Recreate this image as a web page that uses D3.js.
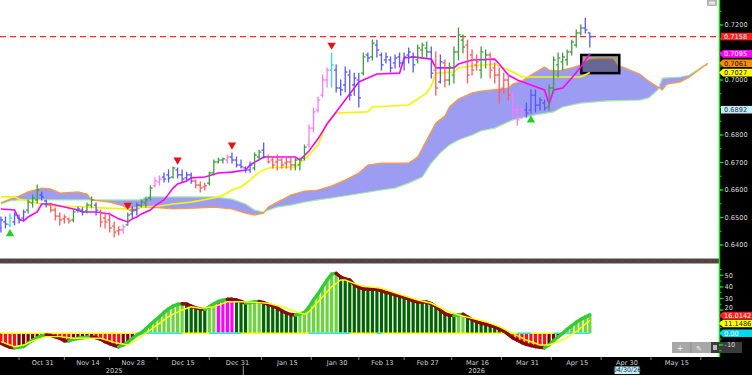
<!DOCTYPE html>
<html>
<head>
<meta charset="utf-8">
<script src="https://cdn.jsdelivr.net/npm/d3@7"></script>
<style>
  body { margin: 0; background: #fff; }
  svg { display: block; font-family: "DejaVu Sans", Verdana, sans-serif; }
</style>
</head>
<body>
<svg id="chart" width="752" height="375"></svg>
<script>
// ---- data ----
const firstDay = "2025-10-20"
const nBars = 131, nAhead = 26

const barOpen = [0.6462,0.6484,0.6473,0.6484,0.6498,0.6498,0.6527,0.6553,0.6564,0.6582,
  0.6560,0.6545,0.6527,0.6505,0.6495,0.6495,0.6491,0.6527,0.6527,0.6524,
  0.6545,0.6545,0.6520,0.6498,0.6491,0.6469,0.6451,0.6455,0.6473,0.6513,
  0.6527,0.6545,0.6553,0.6571,0.6615,0.6629,0.6647,0.6655,0.6647,0.6673,
  0.6655,0.6644,0.6655,0.6633,0.6618,0.6611,0.6625,0.6662,0.6702,0.6709,
  0.6709,0.6720,0.6709,0.6691,0.6680,0.6673,0.6680,0.6720,0.6745,0.6720,
  0.6709,0.6702,0.6709,0.6698,0.6702,0.6691,0.6691,0.6716,0.6764,0.6825,
  0.6891,0.6945,0.7000,0.7036,0.7036,0.6971,0.6982,0.7018,0.6982,0.7000,
  0.7025,0.7091,0.7084,0.7127,0.7091,0.7073,0.7073,0.7062,0.7084,0.7062,
  0.7091,0.7084,0.7073,0.7109,0.7116,0.7102,0.7036,0.6993,0.7062,0.7000,
  0.7018,0.7102,0.7145,0.7127,0.7091,0.7055,0.7036,0.7073,0.7091,0.7044,
  0.7018,0.6971,0.7000,0.6945,0.6891,0.6865,0.6891,0.6891,0.6945,0.6909,
  0.6916,0.6902,0.6971,0.7055,0.7066,0.7073,0.7102,0.7127,0.7171,0.7189,
  0.7171]
const barHigh = [0.6502,0.6502,0.6513,0.6516,0.6509,0.6527,0.6564,0.6582,0.6618,0.6593,
  0.6564,0.6553,0.6535,0.6516,0.6509,0.6498,0.6527,0.6538,0.6535,0.6553,
  0.6575,0.6553,0.6527,0.6516,0.6516,0.6484,0.6466,0.6473,0.6516,0.6538,
  0.6553,0.6564,0.6571,0.6615,0.6644,0.6651,0.6662,0.6673,0.6684,0.6680,
  0.6673,0.6665,0.6662,0.6636,0.6629,0.6625,0.6665,0.6709,0.6716,0.6716,
  0.6727,0.6735,0.6720,0.6709,0.6684,0.6702,0.6735,0.6745,0.6771,0.6727,
  0.6720,0.6727,0.6720,0.6716,0.6716,0.6716,0.6716,0.6764,0.6836,0.6898,
  0.6938,0.7018,0.7044,0.7098,0.7055,0.7000,0.7047,0.7036,0.7025,0.7025,
  0.7098,0.7098,0.7145,0.7145,0.7098,0.7098,0.7084,0.7091,0.7098,0.7098,
  0.7116,0.7098,0.7127,0.7134,0.7138,0.7120,0.7102,0.7091,0.7073,0.7062,
  0.7120,0.7189,0.7164,0.7145,0.7109,0.7091,0.7120,0.7109,0.7098,0.7062,
  0.7044,0.7025,0.7018,0.6953,0.6909,0.6902,0.6916,0.6964,0.6964,0.6935,
  0.6927,0.6982,0.7084,0.7098,0.7098,0.7109,0.7145,0.7182,0.7200,0.7225,
  0.7171]
const barLow = [0.6447,0.6462,0.6466,0.6473,0.6480,0.6491,0.6516,0.6538,0.6553,0.6564,
  0.6538,0.6520,0.6491,0.6473,0.6480,0.6480,0.6484,0.6520,0.6509,0.6516,
  0.6535,0.6509,0.6466,0.6462,0.6447,0.6429,0.6436,0.6444,0.6473,0.6498,
  0.6509,0.6538,0.6538,0.6564,0.6611,0.6618,0.6629,0.6629,0.6644,0.6644,
  0.6629,0.6636,0.6625,0.6607,0.6593,0.6600,0.6618,0.6655,0.6698,0.6698,
  0.6698,0.6698,0.6684,0.6680,0.6665,0.6665,0.6673,0.6709,0.6716,0.6698,
  0.6680,0.6673,0.6680,0.6680,0.6673,0.6673,0.6673,0.6709,0.6756,0.6811,
  0.6884,0.6938,0.6975,0.6975,0.6956,0.6945,0.6956,0.6927,0.6945,0.6902,
  0.7018,0.7066,0.7073,0.7084,0.7036,0.7062,0.7029,0.7044,0.7047,0.7036,
  0.7062,0.7029,0.7062,0.7080,0.7084,0.7007,0.6945,0.6989,0.6975,0.6982,
  0.6989,0.7073,0.7098,0.6989,0.7018,0.7036,0.7007,0.7044,0.7007,0.6989,
  0.6916,0.6953,0.6927,0.6865,0.6836,0.6862,0.6865,0.6880,0.6884,0.6891,
  0.6891,0.6891,0.6953,0.7011,0.7036,0.7055,0.7091,0.7120,0.7164,0.7171,
  0.7120]
const barClose = [0.6491,0.6476,0.6498,0.6509,0.6491,0.6520,0.6556,0.6571,0.6600,0.6575,
  0.6549,0.6527,0.6505,0.6491,0.6502,0.6487,0.6520,0.6531,0.6520,0.6545,
  0.6564,0.6527,0.6484,0.6484,0.6462,0.6447,0.6455,0.6466,0.6509,0.6527,
  0.6545,0.6556,0.6564,0.6607,0.6633,0.6640,0.6640,0.6644,0.6680,0.6655,
  0.6640,0.6655,0.6633,0.6618,0.6607,0.6615,0.6662,0.6702,0.6709,0.6713,
  0.6720,0.6709,0.6691,0.6684,0.6673,0.6691,0.6727,0.6738,0.6720,0.6702,
  0.6691,0.6709,0.6691,0.6702,0.6691,0.6709,0.6709,0.6756,0.6825,0.6884,
  0.6927,0.7000,0.7036,0.7055,0.6971,0.6964,0.7029,0.6945,0.7007,0.6935,
  0.7084,0.7080,0.7134,0.7109,0.7055,0.7084,0.7044,0.7080,0.7062,0.7084,
  0.7102,0.7055,0.7116,0.7127,0.7102,0.7025,0.6971,0.7066,0.7000,0.7047,
  0.7102,0.7164,0.7120,0.7018,0.7036,0.7066,0.7102,0.7091,0.7036,0.7018,
  0.6964,0.7000,0.6945,0.6891,0.6855,0.6891,0.6880,0.6945,0.6909,0.6927,
  0.6898,0.6971,0.7073,0.7080,0.7084,0.7102,0.7138,0.7171,0.7189,0.7182,
  0.7158]
// trend colour of each bar: B blue, G green, R red, P pink, C cyan
const barTrend = ("BBCBBBGGGB" + "BRRRRRGBBG" + "GBRRRRRPGB" + "BGGGPPBBGB" + "BBBRRRGGGG" +
  "PBBBBBGGBR" + "RRRRRGGGPP" + "PPPCBBBBBB" + "GBGBBBBBBB" + "BBGGGBRBRG" +
  "GGGRRRGGRR" + "RRRPPPBBBB" + "BGGGGGGGGB" + "B").split("")

// [bar index, value]
const tenkan = [[0,0.6531],[3,0.6527],[4,0.6495],[5,0.6487],[6,0.6502],[8,0.6520],[9,0.6549],[11,0.6549],
  [13,0.6542],[17,0.6527],[18,0.6520],[21,0.6520],[24,0.6513],[26,0.6495],[28,0.6484],[29,0.6495],
  [30,0.6502],[31,0.6513],[33,0.6527],[34,0.6542],[36,0.6564],[37,0.6585],[38,0.6607],[39,0.6622],
  [41,0.6633],[42,0.6644],[45,0.6647],[48,0.6662],[51,0.6665],[54,0.6673],[55,0.6691],[58,0.6720],
  [65,0.6720],[66,0.6709],[68,0.6742],[70,0.6786],[72,0.6840],[74,0.6884],[76,0.6927],[77,0.6949],
  [79,0.6993],[81,0.7007],[83,0.7022],[88,0.7025],[89,0.7080],[91,0.7084],[95,0.7076],[96,0.7044],
  [100,0.7044],[101,0.7058],[104,0.7073],[109,0.7076],[110,0.7058],[112,0.7018],[114,0.7000],
  [117,0.6982],[120,0.6964],[121,0.6913],[122,0.6964],[124,0.6971],[126,0.7007],[128,0.7047],[130,0.7095]]
const kijun = [[0,0.6575],[3,0.6575],[4,0.6567],[8,0.6553],[11,0.6542],[19,0.6538],[22,0.6535],[28,0.6531],
  [31,0.6538],[35,0.6542],[38,0.6549],[42,0.6556],[47,0.6571],[48,0.6575],[50,0.6589],[51,0.6600],
  [53,0.6611],[55,0.6636],[57,0.6665],[59,0.6680],[65,0.6684],[66,0.6698],[68,0.6727],[70,0.6764],
  [72,0.6844],[73,0.6865],[74,0.6880],[81,0.6884],[82,0.6902],[90,0.6909],[91,0.6920],[93,0.6942],
  [94,0.6953],[95,0.6978],[96,0.7025],[100,0.7029],[101,0.7044],[104,0.7051],[109,0.7058],[111,0.7044],
  [113,0.7029],[115,0.7011],[128,0.7011],[130,0.7027]]
const spanA = [[0,0.6553],[2,0.6567],[4,0.6578],[6,0.6593],[9,0.6607],[11,0.6604],[13,0.6589],[17,0.6593],
  [19,0.6585],[20,0.6564],[24,0.6556],[27,0.6542],[29,0.6520],[31,0.6538],[33,0.6538],[38,0.6531],
  [44,0.6535],[47,0.6538],[51,0.6531],[54,0.6516],[56,0.6509],[58,0.6516],[59,0.6538],[62,0.6564],
  [64,0.6582],[67,0.6596],[70,0.6600],[73,0.6615],[76,0.6636],[79,0.6662],[81,0.6691],[84,0.6698],
  [90,0.6698],[92,0.6720],[94,0.6782],[96,0.6844],[98,0.6869],[99,0.6902],[101,0.6931],[104,0.6953],
  [106,0.6960],[110,0.6967],[112,0.6971],[113,0.6985],[115,0.6996],[117,0.7018],[120,0.7047],[121,0.7036],
  [123,0.7033],[126,0.7044],[128,0.7055],[130,0.7073],[132,0.7076],[135,0.7076],[136,0.7055],[141,0.7022],
  [143,0.6996],[146,0.6964],[147,0.6985],[150,0.6993],[152,0.7011],[156,0.7061]]
const spanB = [[0,0.6549],[2,0.6560],[4,0.6564],[31,0.6564],[32,0.6575],[47,0.6575],[51,0.6567],[54,0.6549],
  [56,0.6527],[58,0.6520],[61,0.6538],[64,0.6545],[67,0.6556],[70,0.6564],[73,0.6571],[80,0.6589],
  [84,0.6600],[87,0.6607],[90,0.6625],[93,0.6647],[95,0.6698],[97,0.6735],[99,0.6764],[101,0.6782],
  [104,0.6800],[106,0.6815],[109,0.6825],[113,0.6855],[118,0.6873],[122,0.6884],[124,0.6902],[128,0.6916],
  [134,0.6924],[141,0.6927],[143,0.6935],[145,0.6964],[146,0.7007],[150,0.7011],[152,0.7018],[155,0.7051],[156,0.7055]]

const sellSignals = [28, 39, 51, 73]
const buySignals = [2, 117]

// lower panel oscillator, one value per bar
const osc = [-8.6,-10.5,-12,-12.4,-12,-11.4,-8.5,-6,-3.8,-2.2,
  -1.5,-1.8,-3,-4.3,-6.5,-6.5,-5.2,-4.5,-3.8,-3.3,
  -2.9,-3.8,-5.2,-7.2,-9,-10.5,-11.6,-10,-7.8,-4.5,
  -1.5,0.5,4,7.5,11,14.3,18,21,23.5,25,
  25.5,25.2,23.5,22,21,20.7,23,25.5,27.5,28.5,
  29.3,29.3,28.7,27.5,26,26.5,27.2,27.4,26.5,25,
  23.5,21.8,19.5,17.5,16.2,15.8,16.5,18,22.5,28.7,
  34,40,46,51,51.7,48.5,47,45.9,42,39.5,
  38.2,38,38,37.9,36.5,35.3,34.5,33.2,32,31,
  29.5,28,27,27,26.9,25.5,23,20,17,15.5,
  15.2,15.8,16.4,14,11.8,10.2,8.8,7.8,6.8,5.5,
  3.8,2,-1,-4,-6,-8,-9.5,-10.6,-11.5,-12,
  -12.4,-10,-6.5,-3,0,3.5,6.5,9.5,12,14,
  16.0142]
const signal = [[0,-7.2],[3,-11.6],[5,-10.1],[7,-6.6],[10,-2.9],[13,-2.9],[16,-4.3],[22,-4.3],[25,-7.8],
  [28,-10.1],[30,-5.8],[32,0],[35,8.6],[37,14.3],[40,20.1],[42,22.9],[44,21.6],[47,22.9],[50,27.2],
  [53,27.2],[56,26.7],[59,25.9],[62,22.9],[65,18.6],[67,16.4],[68,18.6],[70,27.2],[73,40.2],[75,45.9],
  [76,45.9],[79,41.6],[81,40.2],[84,38.8],[88,33.6],[92,28.7],[95,25.9],[98,20.1],[101,15.8],[104,12.9],
  [107,10],[110,5.7],[113,0],[116,-5.8],[119,-10.1],[121,-10.1],[124,-5.8],[127,1.4],[130,11.1486]]
const zeroCyan = [[30,40],[46,53],[68,77],[83,84],[114,117],[122,130]]
const magentaBars = [48, 49, 50, 51]

const tickDates = ["2025-10-31","2025-11-14","2025-11-28","2025-12-15","2025-12-31","2026-01-15","2026-01-30",
  "2026-02-13","2026-02-27","2026-03-16","2026-03-31","2026-04-15","2026-04-30","2026-05-15"]
const tickText = ["Oct 31","Nov 14","Nov 28","Dec 15","Dec 31","Jan 15","Jan 30",
  "Feb 13","Feb 27","Mar 16","Mar 31","Apr 15","Apr 30","May 15"]
const yearText = ["2025", "2026"]
const yearDates = ["2025-11-24", "2026-03-16"]
const priceTicks = [0.72, 0.71, 0.70, 0.69, 0.68, 0.67, 0.66, 0.65, 0.64]
const oscTicks = [50, 40, 30, 20, 10, 0, -10]

const lastClose = 0.7158, tenkanLast = 0.7095, spanALast = 0.7061, kijunLast = 0.7027
const cursorPrice = 0.6892, cursorDate = "04/30/26"
const oscLast = 16.0142, signalLast = 11.1486

// ---- trading days (weekdays) ----
const days = []
let dt = new Date(firstDay + "T12:00:00Z")
while (days.length < nBars + nAhead) {
  const wd = dt.getUTCDay()
  if (wd != 0 && wd != 6) days.push(d3.utcFormat("%Y-%m-%d")(dt))
  dt = new Date(dt.getTime() + 864e5)
}

// ---- layout ----
const svg = d3.select("#chart")
const plotRight = 719
const x = d3.scaleLinear().domain([0, 156]).range([0.93, 0.93 + 4.53 * 156])
const yP = d3.scaleLinear().domain([0.64, 0.72]).range([245, 25])
const yO = d3.scaleLinear().domain([-10, 50]).range([344.9, 275.3])

const defs = svg.append("defs")
defs.append("clipPath").attr("id", "clipMain").append("rect")
  .attr("x", 0).attr("y", 0).attr("width", plotRight).attr("height", 258)
defs.append("clipPath").attr("id", "clipLow").append("rect")
  .attr("x", 0).attr("y", 264).attr("width", plotRight).attr("height", 93)

svg.append("rect").attr("width", 752).attr("height", 375).attr("fill", "#fff")

const gMain = svg.append("g").attr("clip-path", "url(#clipMain)")

// cloud
const ptsA = spanA.map(d => [x(d[0]), yP(d[1])])
const ptsB = spanB.map(d => [x(d[0]), yP(d[1])]).reverse()
gMain.append("path")
  .attr("d", d3.line()(ptsA.concat(ptsB)) + "Z")
  .attr("fill", "#9c9cf3")
gMain.append("path").attr("d", d3.line()(spanB.map(d => [x(d[0]), yP(d[1])])))
  .attr("fill", "none").attr("stroke", "#a6eaa6").attr("stroke-width", 1.2)
gMain.append("path").attr("d", d3.line()(ptsA))
  .attr("fill", "none").attr("stroke", "#ff9a3a").attr("stroke-width", 1.2)

// highlight box on the cloud ahead
gMain.append("rect")
  .attr("x", x(128.1)).attr("y", yP(0.7091))
  .attr("width", x(136.5) - x(128.1)).attr("height", yP(0.7025) - yP(0.7091))
  .attr("fill", "rgba(40,40,40,0.45)").attr("stroke", "#000").attr("stroke-width", 2.5)

// last price line
gMain.append("line")
  .attr("x1", 0).attr("x2", plotRight).attr("y1", yP(lastClose)).attr("y2", yP(lastClose))
  .attr("stroke", "#ff2a2a").attr("stroke-width", 1.3).attr("stroke-dasharray", "6,4")

// base and conversion lines
const line = d3.line().x(d => x(d[0])).y(d => yP(d[1]))
gMain.append("path").attr("d", line(kijun))
  .attr("fill", "none").attr("stroke", "#f5f500").attr("stroke-width", 1.6)
gMain.append("path").attr("d", line(tenkan))
  .attr("fill", "none").attr("stroke", "#ff00ff").attr("stroke-width", 1.6)

// OHLC bars
const trendColor = { B: "#5656ff", G: "#3f9d3f", R: "#ff5a5a", P: "#ff77ff", C: "#35dcec" }
const bars = gMain.selectAll("g.bar").data(d3.range(nBars)).join("g")
  .attr("stroke", k => trendColor[barTrend[k]]).attr("stroke-width", 1.3)
bars.append("line")
  .attr("x1", k => x(k)).attr("x2", k => x(k))
  .attr("y1", k => yP(barHigh[k]) - 0.5).attr("y2", k => yP(barLow[k]) + 0.5)
bars.append("line")
  .attr("x1", k => x(k) - 2.2).attr("x2", k => x(k))
  .attr("y1", k => yP(barOpen[k])).attr("y2", k => yP(barOpen[k]))
bars.append("line")
  .attr("x1", k => x(k)).attr("x2", k => x(k) + 2.2)
  .attr("y1", k => yP(barClose[k])).attr("y2", k => yP(barClose[k]))

// signal triangles
const tri = d3.symbol(d3.symbolTriangle, 30)
gMain.selectAll("path.sell").data(sellSignals).join("path")
  .attr("d", tri()).attr("fill", "#e81212")
  .attr("transform", k => `translate(${x(k)},${yP(barHigh[k]) - 8}) rotate(180)`)
gMain.selectAll("path.buy").data(buySignals).join("path")
  .attr("d", tri()).attr("fill", "#1ed21e")
  .attr("transform", k => `translate(${x(k)},${yP(barLow[k]) + 7})`)

// panel separator
svg.append("rect").attr("x", 0).attr("y", 258.5).attr("width", plotRight).attr("height", 5).attr("fill", "#4a4a4a")
svg.append("line").attr("x1", 0).attr("x2", plotRight).attr("y1", 261).attr("y2", 261)
  .attr("stroke", "#9a1c1c").attr("stroke-width", 1.2).attr("stroke-dasharray", "5,3")

// ---- lower panel ----
const gLow = svg.append("g").attr("clip-path", "url(#clipLow)")
gLow.selectAll("rect.hist").data(d3.range(nBars)).join("rect")
  .attr("x", k => x(k) - 1.6).attr("width", 3.2)
  .attr("y", k => Math.min(yO(0), yO(osc[k])))
  .attr("height", k => Math.abs(yO(osc[k]) - yO(0)))
  .attr("fill", k => {
    if (magentaBars.includes(k)) return "#ff00ff"
    const up = k > 0 && osc[k] > osc[k - 1]
    if (osc[k] >= 0) return up ? "#6ad63c" : "#006400"
    return up ? "#8b0000" : "#ff1010"
  })

gLow.append("line").attr("x1", x(0)).attr("x2", x(nBars - 1)).attr("y1", yO(0)).attr("y2", yO(0))
  .attr("stroke", "#ffff00").attr("stroke-width", 1.6)
gLow.selectAll("line.zc").data(zeroCyan).join("line")
  .attr("x1", d => x(d[0])).attr("x2", d => x(d[1])).attr("y1", yO(0)).attr("y2", yO(0))
  .attr("stroke", "#22e6f5").attr("stroke-width", 1.6)

gLow.selectAll("line.osc").data(d3.range(1, nBars)).join("line")
  .attr("x1", k => x(k - 1)).attr("x2", k => x(k))
  .attr("y1", k => yO(osc[k - 1])).attr("y2", k => yO(osc[k]))
  .attr("stroke", k => osc[k] > osc[k - 1] ? "#33cc33" : "#8b0a0a")
  .attr("stroke-width", 3.4).attr("stroke-linecap", "round")
gLow.append("path")
  .attr("d", d3.line().x(d => x(d[0])).y(d => yO(d[1]))(signal))
  .attr("fill", "none").attr("stroke", "#ffff00").attr("stroke-width", 1.4)

// ---- right axis ----
const gAx = svg.append("g")
gAx.append("rect").attr("x", plotRight).attr("y", 0).attr("width", 752 - plotRight).attr("height", 375).attr("fill", "#000")
gAx.append("line").attr("x1", plotRight + 0.5).attr("x2", plotRight + 0.5).attr("y1", 0).attr("y2", 357)
  .attr("stroke", "#10e010").attr("stroke-width", 1.5)

// chart toolbar in the lower right corner
const tb = gAx.append("g")
tb.append("rect").attr("x", 672).attr("y", 342).attr("width", 70).attr("height", 11).attr("fill", "#a8a8a8")
tb.append("rect").attr("x", 711).attr("y", 342).attr("width", 31).attr("height", 11).attr("fill", "#3c3c3c")
tb.append("line").attr("x1", 691).attr("x2", 691).attr("y1", 342).attr("y2", 353).attr("stroke", "#8a8a8a")
tb.append("text").attr("x", 680).attr("y", 350.5).attr("text-anchor", "middle").attr("fill", "#f4f4f4").attr("font-size", 8).text("+")
tb.append("text").attr("x", 699).attr("y", 350.5).attr("text-anchor", "middle").attr("fill", "#f4f4f4").attr("font-size", 7).text("✎")
tb.append("rect").attr("x", 713).attr("y", 345).attr("width", 4).attr("height", 5).attr("fill", "#bdbdbd")

// value tags on the axis, pushed apart when they touch
const mainTags = [
  { y: yP(lastClose), bg: "#ff1e1e", fg: "#fff", txt: d3.format(".4f")(lastClose), notch: false },
  { y: yP(tenkanLast), bg: "#ff00ff", fg: "#fff", txt: d3.format(".4f")(tenkanLast), notch: true },
  { y: yP(spanALast), bg: "#ff8c00", fg: "#111", txt: d3.format(".4f")(spanALast), notch: true },
  { y: yP(kijunLast), bg: "#ffff00", fg: "#111", txt: d3.format(".4f")(kijunLast), notch: true },
  { y: yP(cursorPrice), bg: "#c4ecf6", fg: "#1c3450", txt: d3.format(".4f")(cursorPrice), notch: false }
]
const lowTags = [
  { y: yO(oscLast) + 0.8, bg: "#ff1e1e", fg: "#fff", txt: d3.format(".4f")(oscLast), notch: true },
  { y: yO(signalLast), bg: "#ffff00", fg: "#111", txt: d3.format(".4f")(signalLast), notch: true },
  { y: yO(0), bg: "#00d8ee", fg: "#fff", txt: "0.00", notch: true }
]
function spread(tags) {
  tags.sort((a, b) => a.y - b.y)
  for (let i = 1; i < tags.length; i++)
    if (tags[i].y - tags[i - 1].y < 8) tags[i].y = tags[i - 1].y + 8
}
spread(mainTags)
spread(lowTags)
const allTags = mainTags.concat(lowTags)
const hidden = v => allTags.some(t => Math.abs(t.y - v) < 4.5)
// labels partly under a tag are nudged up so they stay readable
const nudge = v => allTags.some(t => t.y - v >= 4.5 && t.y - v < 8) ? -2.6 : 0

const minorP = d3.range(0.635, 0.73, 0.005)
gAx.selectAll("line.mp").data(minorP).join("line")
  .attr("x1", plotRight).attr("x2", plotRight + 2.5).attr("y1", d => yP(d)).attr("y2", d => yP(d))
  .attr("stroke", "#10e010").attr("stroke-width", 1)
  .attr("visibility", d => yP(d) > 1 && yP(d) < 257 ? "visible" : "hidden")
gAx.selectAll("line.tp").data(priceTicks).join("line")
  .attr("x1", plotRight).attr("x2", plotRight + 4.5).attr("y1", d => yP(d)).attr("y2", d => yP(d))
  .attr("stroke", "#10e010").attr("stroke-width", 1.2)
gAx.selectAll("text.tp").data(priceTicks.filter(d => !hidden(yP(d)))).join("text")
  .attr("x", 724.5).attr("y", d => yP(d) + 2.4 + nudge(yP(d)))
  .attr("fill", "#d8d8d8").attr("font-size", 6.6).text(d => d3.format(".4f")(d))

gAx.selectAll("line.mo").data(d3.range(-15, 56, 5)).join("line")
  .attr("x1", plotRight).attr("x2", plotRight + 2.5).attr("y1", d => yO(d)).attr("y2", d => yO(d))
  .attr("stroke", "#10e010").attr("stroke-width", 1)
  .attr("visibility", d => yO(d) > 265 && yO(d) < 356 ? "visible" : "hidden")
gAx.selectAll("line.to").data(oscTicks).join("line")
  .attr("x1", plotRight).attr("x2", plotRight + 4.5).attr("y1", d => yO(d)).attr("y2", d => yO(d))
  .attr("stroke", "#10e010").attr("stroke-width", 1.2)
gAx.selectAll("text.to").data(oscTicks.filter(d => !hidden(yO(d)))).join("text")
  .attr("x", 724.5).attr("y", d => yO(d) + 2.4 + nudge(yO(d)))
  .attr("fill", "#d8d8d8").attr("font-size", 6.6).text(d => d)

function tag(t) {
  const h = 3.8, y = t.y
  const d = t.notch
    ? `M${plotRight},${y} L${plotRight + 4},${y - h} L752,${y - h} L752,${y + h} L${plotRight + 4},${y + h} Z`
    : `M${plotRight + 2},${y - h} L752,${y - h} L752,${y + h} L${plotRight + 2},${y + h} Z`
  gAx.append("path").attr("d", d).attr("fill", t.bg)
  gAx.append("text").attr("x", 724).attr("y", y + 2.4).attr("fill", t.fg)
    .attr("font-size", 6.6).text(t.txt)
}
allTags.forEach(tag)

// ---- bottom axis ----
const gBot = svg.append("g")
gBot.append("rect").attr("x", 0).attr("y", 357).attr("width", 752).attr("height", 18).attr("fill", "#000")
const tickIdx = tickDates.map(d => days.indexOf(d))
const sep = tickIdx.map((k, i) => i == 0 ? k - (tickIdx[1] - k) / 2 : (k + tickIdx[i - 1]) / 2)
sep.push(tickIdx[tickIdx.length - 1] + 5.5)
gBot.selectAll("line.sep").data(sep).join("line")
  .attr("x1", k => x(k)).attr("x2", k => x(k)).attr("y1", 357).attr("y2", 360)
  .attr("stroke", "#8c8c8c")
gBot.selectAll("text.tick").data(tickIdx).join("text")
  .attr("x", k => x(k) + 1).attr("y", 364.5).attr("text-anchor", "middle")
  .attr("fill", "#d0d0d0").attr("font-size", 6.6).text((k, i) => tickText[i])
gBot.selectAll("text.year").data(yearDates).join("text")
  .attr("x", d => x(days.indexOf(d))).attr("y", 373).attr("text-anchor", "middle")
  .attr("fill", "#d0d0d0").attr("font-size", 6.6).text((d, i) => yearText[i])
const yearCut = days.indexOf("2026-01-02") - 0.5
gBot.append("line").attr("x1", x(yearCut)).attr("x2", x(yearCut)).attr("y1", 366).attr("y2", 375)
  .attr("stroke", "#9a9a9a")
const cx = x(days.indexOf("2026-04-30")) + 1
gBot.append("rect").attr("x", cx - 12.5).attr("y", 366.5).attr("width", 25).attr("height", 7.5).attr("fill", "#c4ecf6")
gBot.append("text").attr("x", cx).attr("y", 372.3).attr("text-anchor", "middle")
  .attr("fill", "#1c3450").attr("font-size", 6.4).text(cursorDate)

// small window icon top right
svg.append("rect").attr("x", 707).attr("y", 0).attr("width", 10).attr("height", 6).attr("fill", "#b4b4b4")
svg.append("rect").attr("x", 709).attr("y", 1.5).attr("width", 6).attr("height", 3).attr("fill", "#e6e6e6")
</script>
</body>
</html>
